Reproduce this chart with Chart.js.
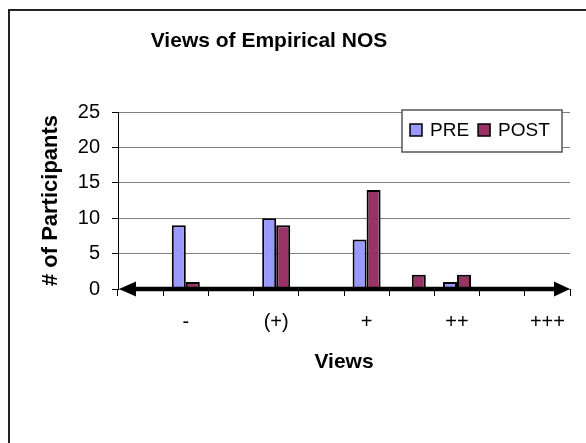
<!DOCTYPE html>
<html lang="en">
<head>
    <meta charset="UTF-8">
    <title>Views of Empirical NOS</title>
    <style>
        body {margin: 0; background: #fff;}
        #wrap {position: relative; width: 586px; height: 443px;}
        #chartTitle {
            position: absolute; left: 0; top: 27px; width: 538px;
            text-align: center; font: bold 21px "Liberation Sans", Arial, sans-serif;
            line-height: 26px; color: #000;
        }
        canvas {position: absolute; left: 0; top: 0;}
    </style>
    <script src="https://cdn.jsdelivr.net/npm/chart.js@4.4.0/dist/chart.umd.min.js"></script>
</head>
<body>
    <div id="wrap">
        <canvas id="nosChart" width="586" height="443"></canvas>
        <div id="chartTitle">Views of Empirical NOS</div>
    </div>

    <script>
        // data: 10 slots on the axis, labels under every second one
        const categories = ['', '-', '', '(+)', '', '+', '', '++', '', '+++'];
        const preValues  = [null, 9, null, 10, null, 7, 0, 1, null, null];
        const postValues = [null, 1, null, 9, null, 14, 2, 2, null, null];
        const seriesNames = ['PRE', 'POST'];
        const yMax = 25;
        const yStep = 5;

        const FONT = '"Liberation Sans", Arial, sans-serif';

        // outer frame of the original figure (cut off at right/bottom)
        const framePlugin = {
            id: 'frame',
            beforeDraw(chart) {
                const c = chart.ctx;
                c.save();
                c.strokeStyle = '#222';
                c.lineWidth = 2;
                c.strokeRect(9, 10, 1000, 1000);
                c.restore();
            }
        };

        // thick double headed arrow along the zero line
        const arrowPlugin = {
            id: 'arrowAxis',
            afterDatasetsDraw(chart) {
                const c = chart.ctx;
                const area = chart.chartArea;
                const y = chart.scales.y.getPixelForValue(0);
                const xL = area.left + 1, xR = area.right;
                c.save();
                c.fillStyle = '#000';
                c.strokeStyle = '#000';
                c.lineWidth = 4.5;
                c.beginPath();
                c.moveTo(xL + 12, y);
                c.lineTo(xR - 12, y);
                c.stroke();
                c.beginPath();
                c.moveTo(xL, y);
                c.lineTo(xL + 17, y - 7.5);
                c.lineTo(xL + 17, y + 7.5);
                c.closePath();
                c.fill();
                c.beginPath();
                c.moveTo(xR, y);
                c.lineTo(xR - 16, y - 7.5);
                c.lineTo(xR - 16, y + 7.5);
                c.closePath();
                c.fill();
                c.restore();
            }
        };

        // boxed legend sitting over the top right of the plot
        const legendBoxPlugin = {
            id: 'legendBox',
            afterDraw(chart) {
                const c = chart.ctx;
                const area = chart.chartArea;
                const right = area.right - 8, top = area.top - 2;
                const left = right - 160, h = 42;
                c.save();
                c.fillStyle = '#fff';
                c.fillRect(left, top, 160, h);
                c.strokeStyle = '#555';
                c.lineWidth = 1.5;
                c.strokeRect(left, top, 160, h);
                c.font = '19px ' + FONT;
                c.textBaseline = 'middle';
                let x = left + 8;
                const cy = top + 20;
                chart.data.datasets.forEach((ds) => {
                    c.fillStyle = ds.backgroundColor;
                    c.fillRect(x, cy - 6, 12, 12);
                    c.strokeStyle = '#000';
                    c.lineWidth = 1.5;
                    c.strokeRect(x, cy - 6, 12, 12);
                    c.fillStyle = '#000';
                    c.fillText(ds.label, x + 20, cy + 1);
                    x += 20 + c.measureText(ds.label).width + 9;
                });
                c.restore();
            }
        };

        const ctx = document.getElementById('nosChart');
        const chart = new Chart(ctx, {
            type: 'bar',
            data: {
                labels: categories,
                datasets: [{
                    label: seriesNames[0],
                    data: preValues,
                    backgroundColor: '#9999FF',
                    borderColor: '#000',
                    borderWidth: 2
                }, {
                    label: seriesNames[1],
                    data: postValues,
                    backgroundColor: '#993366',
                    borderColor: '#000',
                    borderWidth: 2
                }]
            },
            options: {
                responsive: false,
                animation: false,
                devicePixelRatio: 1,
                layout: {padding: {left: 20, right: 16, top: 112, bottom: 68}},
                datasets: {bar: {categoryPercentage: 0.62, barPercentage: 1}},
                plugins: {
                    legend: {display: false},
                    title: {display: false},
                    tooltip: {enabled: false}
                },
                scales: {
                    x: {
                        afterFit(scale) { scale.height = 86; },
                        grid: {
                            offset: true,
                            color: (c) => c.index === categories.length ? '#808080' : 'rgba(0,0,0,0)',
                            tickColor: '#000',
                            tickLength: 7,
                            lineWidth: 1
                        },
                        border: {display: false},
                        ticks: {
                            autoSkip: false, maxRotation: 0, padding: 14,
                            color: '#000', font: {family: FONT, size: 20}
                        },
                        title: {
                            display: true, text: 'Views', color: '#000',
                            font: {family: FONT, size: 21, weight: 'bold'},
                            padding: {top: 0, bottom: 0}
                        }
                    },
                    y: {
                        min: 0, max: yMax,
                        afterFit(scale) { scale.width = 98; },
                        grid: {color: '#808080', tickColor: '#000', tickLength: 6, lineWidth: 1},
                        border: {display: true, color: '#000', width: 1},
                        ticks: {
                            stepSize: yStep, padding: 12,
                            color: '#000', font: {family: FONT, size: 20}
                        },
                        title: {
                            display: true, text: '# of Participants', color: '#000',
                            font: {family: FONT, size: 22, weight: 'bold'},
                            padding: {top: 18, bottom: 0}
                        }
                    }
                }
            },
            plugins: [framePlugin, arrowPlugin, legendBoxPlugin]
        });
    </script>
</body>
</html>
